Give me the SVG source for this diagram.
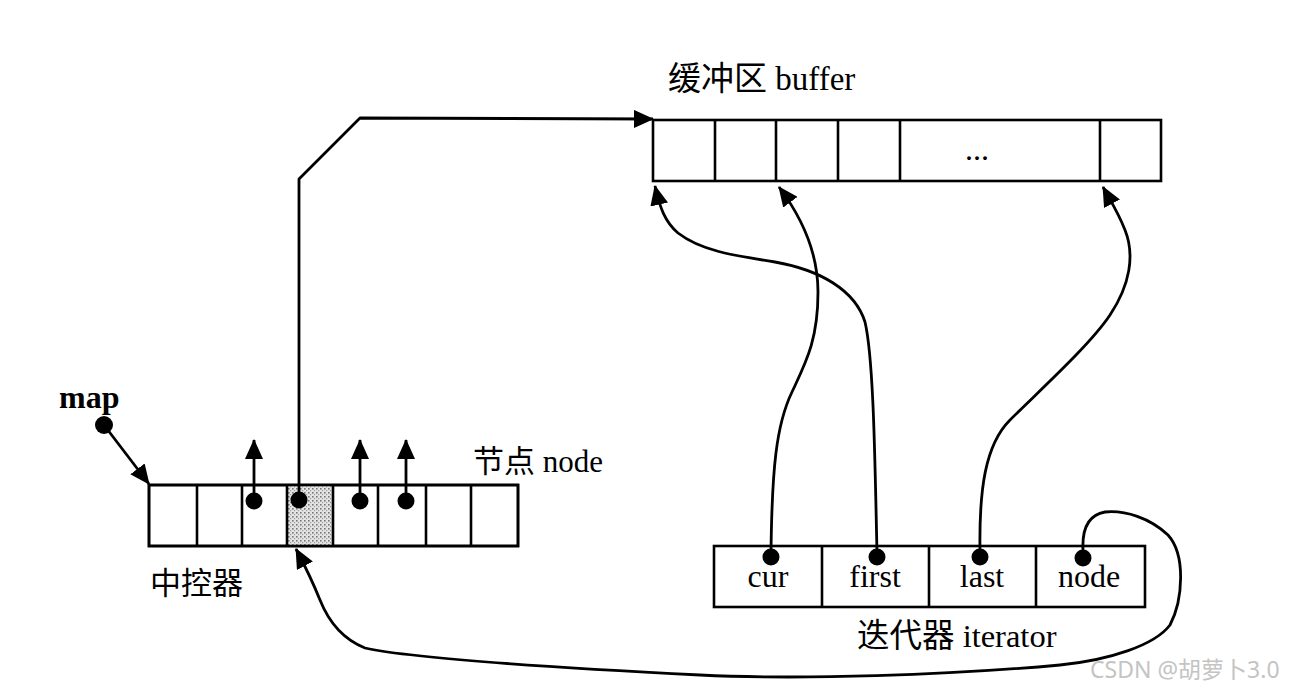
<svg xmlns="http://www.w3.org/2000/svg" width="1294" height="697" viewBox="0 0 1294 697">
  <style>
    .box { fill: #fff; stroke: #000; stroke-width: 2.6; }
    .div { stroke: #000; stroke-width: 2.6; }
    .lbl { font-family: "Liberation Serif", "Noto Sans CJK SC", serif; font-size: 31px; fill: #000; }
    .cell { font-family: "Liberation Serif", serif; font-size: 32px; fill: #000; text-anchor: middle; }
    .con { fill: none; stroke: #000; stroke-width: 2.8; stroke-linejoin: round; }
    .dot { fill: #000; }
  </style>
  <defs>
    <marker id="arrow" viewBox="0 0 20 18" refX="19" refY="9" markerWidth="20" markerHeight="18" markerUnits="userSpaceOnUse" orient="auto">
      <path d="M0,0 L20,9 L0,18 z" fill="#000"/>
    </marker>
    <pattern id="stipple" width="4" height="4" patternUnits="userSpaceOnUse">
      <rect width="4" height="4" fill="#e4e4e4"/>
      <rect x="0" y="0" width="1.6" height="1.6" fill="#777"/>
      <rect x="2" y="2" width="1.2" height="1.2" fill="#999"/>
    </pattern>
  </defs>

  <g id="buffer">
    <rect class="box" x="653" y="120" width="508" height="61"/>
    <line class="div" x1="715" y1="120" x2="715" y2="181"/>
    <line class="div" x1="776" y1="120" x2="776" y2="181"/>
    <line class="div" x1="838" y1="120" x2="838" y2="181"/>
    <line class="div" x1="900" y1="120" x2="900" y2="181"/>
    <line class="div" x1="1100" y1="120" x2="1100" y2="181"/>
    <text class="cell" x="977" y="160" style="font-size:32px">...</text>
    <text class="lbl" x="668" y="90" style="font-size:33px">缓冲区 buffer</text>
  </g>

  <g id="map-label">
    <text class="lbl" x="59" y="408" style="font-size:32px;font-weight:bold">map</text>
    <circle class="dot" cx="104" cy="425" r="9"/>
  </g>

  <g id="node-array">
    <rect class="box" x="149" y="485" width="369" height="61"/>
    <rect x="287" y="485" width="46" height="61" fill="url(#stipple)"/>
    <rect x="149" y="485" width="369" height="61" fill="none" stroke="#000" stroke-width="2.6"/>
    <line class="div" x1="197" y1="485" x2="197" y2="546"/>
    <line class="div" x1="242" y1="485" x2="242" y2="546"/>
    <line class="div" x1="287" y1="485" x2="287" y2="546"/>
    <line class="div" x1="333" y1="485" x2="333" y2="546"/>
    <line class="div" x1="378" y1="485" x2="378" y2="546"/>
    <line class="div" x1="426" y1="485" x2="426" y2="546"/>
    <line class="div" x1="471" y1="485" x2="471" y2="546"/>
    <circle class="dot" cx="254" cy="501" r="8.5"/>
    <circle class="dot" cx="299" cy="500" r="8.5"/>
    <circle class="dot" cx="360" cy="501" r="8.5"/>
    <circle class="dot" cx="406" cy="501" r="8.5"/>
    <text class="lbl" x="473" y="472">节点 node</text>
    <text class="lbl" x="150" y="594">中控器</text>
  </g>

  <g id="iterator">
    <rect class="box" x="714" y="546" width="431" height="61"/>
    <line class="div" x1="822" y1="546" x2="822" y2="607"/>
    <line class="div" x1="929" y1="546" x2="929" y2="607"/>
    <line class="div" x1="1036" y1="546" x2="1036" y2="607"/>
    <text class="cell" x="768" y="587">cur</text>
    <text class="cell" x="875" y="587">first</text>
    <text class="cell" x="982" y="587">last</text>
    <text class="cell" x="1089" y="587">node</text>
    <circle class="dot" cx="771" cy="557" r="8.5"/>
    <circle class="dot" cx="877" cy="557" r="8.5"/>
    <circle class="dot" cx="980" cy="557" r="8.5"/>
    <circle class="dot" cx="1083" cy="558" r="8.5"/>
    <text class="lbl" x="857" y="647" style="font-size:32.5px">迭代器 iterator</text>
  </g>

  <g id="connectors">
    <path class="con" d="M104,425 L149,484" marker-end="url(#arrow)"/>
    <path class="con" d="M254,500 L254,440" marker-end="url(#arrow)"/>
    <path class="con" d="M360,501 L360,440" marker-end="url(#arrow)"/>
    <path class="con" d="M406,501 L406,440" marker-end="url(#arrow)"/>
    <path class="con" d="M299,500 L299,179 L360,118 L653,119" marker-end="url(#arrow)"/>
    <path class="con" d="M771,552 C772,470 776,425 792,392 C806,362 818,340 818,292 C818,250 800,215 779,187" marker-end="url(#arrow)"/>
    <path class="con" d="M877,552 C875,470 874,360 865,322 C855,290 820,270 775,262 C730,255 700,250 678,233 C665,222 660,208 655,186" marker-end="url(#arrow)"/>
    <path class="con" d="M980,552 C979,490 985,445 1010,420 C1040,390 1090,345 1110,315 C1130,285 1135,255 1125,230 C1118,212 1110,200 1103,187" marker-end="url(#arrow)"/>
    <path class="con" d="M1083,550 C1082,530 1088,515 1105,512 C1125,510 1150,518 1168,535 C1186,555 1183,600 1170,625 C1155,645 1110,660 1060,665 C950,675 800,680 700,675 C600,670 420,660 365,648 C345,640 330,625 320,600 C312,580 305,566 296,549" marker-end="url(#arrow)"/>
  </g>

  <text x="1090" y="678" font-family="'Noto Sans', 'Noto Sans CJK SC', sans-serif" font-size="23" fill="#c4c4c4">CSDN @胡萝卜3.0</text>
</svg>
